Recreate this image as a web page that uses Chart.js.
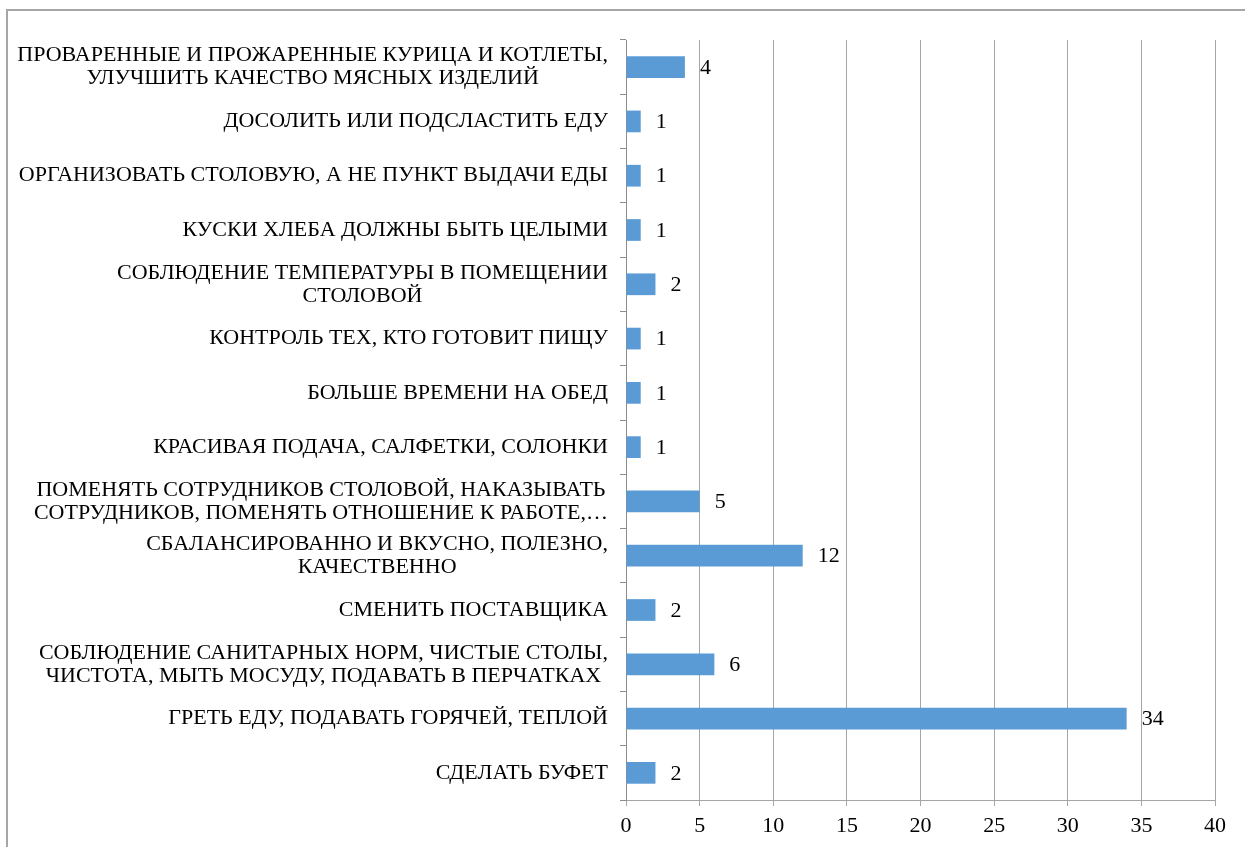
<!DOCTYPE html>
<html>
<head>
<meta charset="utf-8">
<script src="https://cdn.jsdelivr.net/npm/chart.js@4.4.1/dist/chart.umd.min.js"></script>
<style>
  html, body { margin: 0; padding: 0; background: #fff; overflow: hidden; }
  #wrap { position: relative; width: 1245px; height: 847px; }
  #frame { position: absolute; left: 6px; top: 9px; width: 1300px; height: 900px;
           border-left: 2px solid #a6a6a6; border-top: 2px solid #a6a6a6; box-sizing: border-box; pointer-events: none; }
  canvas { position: absolute; left: 0; top: 0; }
</style>
</head>
<body>
<div id="wrap">
  <div id="frame"></div>
  <canvas id="c" width="1245" height="847"></canvas>
</div>
<script>
const categories = [
  ["ПРОВАРЕННЫЕ И ПРОЖАРЕННЫЕ КУРИЦА И КОТЛЕТЫ,", "УЛУЧШИТЬ КАЧЕСТВО МЯСНЫХ ИЗДЕЛИЙ"],
  "ДОСОЛИТЬ ИЛИ ПОДСЛАСТИТЬ ЕДУ",
  "ОРГАНИЗОВАТЬ СТОЛОВУЮ, А НЕ ПУНКТ ВЫДАЧИ ЕДЫ",
  "КУСКИ ХЛЕБА ДОЛЖНЫ БЫТЬ ЦЕЛЫМИ",
  ["СОБЛЮДЕНИЕ ТЕМПЕРАТУРЫ В ПОМЕЩЕНИИ", "СТОЛОВОЙ"],
  "КОНТРОЛЬ ТЕХ, КТО ГОТОВИТ ПИЩУ",
  "БОЛЬШЕ ВРЕМЕНИ НА ОБЕД",
  "КРАСИВАЯ ПОДАЧА, САЛФЕТКИ, СОЛОНКИ",
  ["ПОМЕНЯТЬ СОТРУДНИКОВ СТОЛОВОЙ, НАКАЗЫВАТЬ", "СОТРУДНИКОВ, ПОМЕНЯТЬ ОТНОШЕНИЕ К РАБОТЕ,…"],
  ["СБАЛАНСИРОВАННО И ВКУСНО, ПОЛЕЗНО,", "КАЧЕСТВЕННО"],
  "СМЕНИТЬ ПОСТАВЩИКА",
  ["СОБЛЮДЕНИЕ САНИТАРНЫХ НОРМ, ЧИСТЫЕ СТОЛЫ,", "ЧИСТОТА, МЫТЬ МОСУДУ, ПОДАВАТЬ В ПЕРЧАТКАХ"],
  "ГРЕТЬ ЕДУ, ПОДАВАТЬ ГОРЯЧЕЙ, ТЕПЛОЙ",
  "СДЕЛАТЬ БУФЕТ"
];
const values = [4, 1, 1, 1, 2, 1, 1, 1, 5, 12, 2, 6, 34, 2];
const xTicks = [0, 5, 10, 15, 20, 25, 30, 35, 40];

const FONT = "'Liberation Serif', 'Times New Roman', serif";
const FSIZE = 22;

// Multi-line category labels: lines centred within a right-aligned block
const centerMultiline = {
  id: 'centerMultiline',
  beforeDraw(chart) {
    const scale = chart.scales.y;
    const items = scale.getLabelItems();
    const ctx = chart.ctx;
    ctx.save();
    items.forEach(function (it) {
      if (!Array.isArray(it.label)) return;
      ctx.font = it.font.string;
      const w = Math.max.apply(null, it.label.map(function (l) { return ctx.measureText(l).width; }));
      if (it.options.textAlign === 'right') {
        it.options.textAlign = 'center';
        it.options.translation = [it.options.translation[0] - w / 2, it.options.translation[1]];
      }
    });
    ctx.restore();
  }
};

const valueLabels = {
  id: 'valueLabels',
  afterDatasetsDraw(chart) {
    const ctx = chart.ctx;
    const meta = chart.getDatasetMeta(0);
    ctx.save();
    ctx.font = FSIZE + "px " + FONT;
    ctx.fillStyle = "#000";
    ctx.textAlign = "left";
    ctx.textBaseline = "middle";
    meta.data.forEach(function (bar, i) {
      ctx.fillText(String(values[i]), bar.x + 15, bar.y + 1);
    });
    ctx.restore();
  }
};

new Chart(document.getElementById('c'), {
  type: 'bar',
  data: {
    labels: categories,
    datasets: [{
      data: values,
      backgroundColor: '#5B9BD5',
      borderWidth: 0,
      barPercentage: 0.4,
      categoryPercentage: 1.0
    }]
  },
  options: {
    indexAxis: 'y',
    responsive: false,
    animation: false,
    devicePixelRatio: 1,
    layout: { padding: { top: 40, right: 30, left: 0, bottom: 0 } },
    plugins: { legend: { display: false }, tooltip: { enabled: false } },
    scales: {
      x: {
        type: 'linear',
        min: xTicks[0],
        max: xTicks[xTicks.length - 1],
        afterBuildTicks(scale) { scale.ticks = xTicks.map(function (v) { return { value: v }; }); },
        afterFit(scale) { scale.height = 47; },
        grid: { color: '#a6a6a6', lineWidth: 1, tickLength: 6, drawTicks: true },
        border: { display: true, color: '#a6a6a6', width: 1 },
        ticks: { color: '#000', padding: 7, font: { family: FONT, size: FSIZE, lineHeight: 1.2 } }
      },
      y: {
        afterFit(scale) { scale.width = 626; },
        grid: { drawOnChartArea: false, drawTicks: true, tickLength: 6, color: '#8c8c8c', offset: true },
        border: { display: true, color: '#8c8c8c', width: 1 },
        ticks: { color: '#000', padding: 12, autoSkip: false, font: { family: FONT, size: FSIZE, lineHeight: 1.05 } }
      }
    }
  },
  plugins: [centerMultiline, valueLabels]
});
</script>
</body>
</html>
